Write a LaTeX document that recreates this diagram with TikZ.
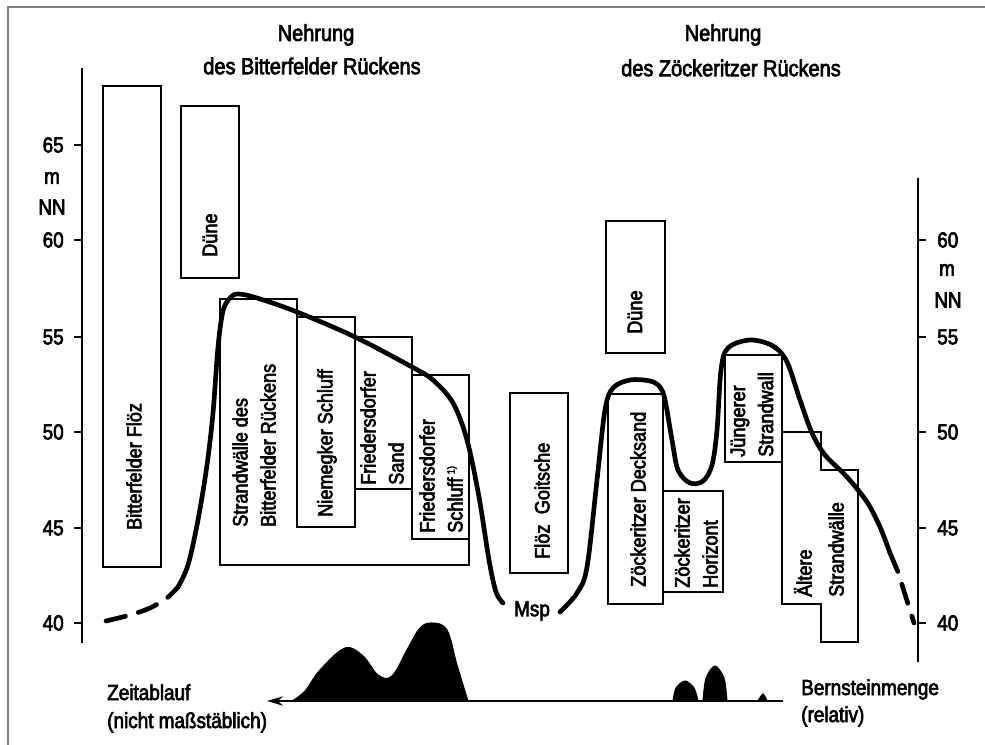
\documentclass[tikz,border=0pt]{standalone}
\usepackage{fontspec}
\setmainfont[FakeStretch=0.87,FakeBold=3]{Liberation Sans}
\usetikzlibrary{arrows.meta}
\begin{document}
\begin{tikzpicture}[x=0.75pt,y=-0.75pt,
  box/.style={draw, line width=1.2pt},
  lbl/.style={rotate=90, anchor=west, inner sep=0pt, align=left, font=\fontsize{15.6}{21}\selectfont},
  txt/.style={inner sep=0pt, font=\fontsize{16.3}{20}\selectfont},
  ttl/.style={inner sep=0pt, font=\fontsize{17.2}{23}\selectfont},
  ax/.style={line width=1.5pt},
  ridge/.style={line width=3.5pt, line cap=round, line join=round},
  ridgedash/.style={ridge, dash pattern=on 15pt off 10pt},
  amber/.style={fill=black, draw=black, line width=0.8pt}
]
\useasboundingbox (0,0) rectangle (985,745);
\fill[white] (0,0) rectangle (985,745);
\draw[gray, line width=1.5pt] (8,745) -- (8,7) -- (985,7);

% titles
\node[ttl] (t1a) at (316,35) {Nehrung};
\node[ttl] (t1b) at (312,66) {des Bitterfelder Rückens};
\node[ttl] (t2a) at (723,35) {Nehrung};
\node[ttl] (t2b) at (731,68) {des Zöckeritzer Rückens};

% left axis
\draw[ax] (82,68) -- (82,643);
\foreach \v/\y in {65/145,60/240,55/337,50/432,45/528,40/623}{
  \draw[ax] (74,\y) -- (82,\y);
  \node[txt, anchor=east] (l\v) at (64,\y) {\v};
}
\node[txt] (lm) at (52,178) {m};
\node[txt] (lnn) at (52,207) {NN};

% right axis
\draw[ax] (918,178) -- (918,662);
\foreach \v/\y in {60/240,55/337,50/432,45/528,40/623}{
  \draw[ax] (918,\y) -- (926,\y);
  \node[txt, anchor=west] (r\v) at (937,\y) {\v};
}
\node[txt] (rm) at (947,270) {m};
\node[txt] (rnn) at (948,300) {NN};

% boxes left
\draw[box] (103,86) rectangle (161,567);
\node[lbl] (bf) at (134,530) {Bitterfelder Flöz};
\draw[box] (181,106) rectangle (239,278);
\node[lbl] (d1) at (210,257) {Düne};
\draw[box] (220,299) -- (297,299) -- (297,317) -- (355,317) -- (355,337) -- (412,337) -- (412,375) -- (469,375) -- (469,565) -- (220,565) -- cycle;
\draw[box] (297,317) rectangle (355,527);
\draw[box] (355,337) rectangle (412,489);
\draw[box] (412,375) rectangle (469,539);
\node[lbl] (sw) at (254,527) {Strandwälle des\\Bitterfelder Rückens};
\node[lbl] (ns) at (327,517) {Niemegker Schluff};
\node[lbl] (fs) at (382,485) {Friedersdorfer\\Sand};
\node[lbl] (fsch) at (441,533) {Friedersdorfer\\Schluff\,\raisebox{0.7ex}{\fontsize{8}{8}\selectfont 1)}};

% boxes right
\draw[box] (510,393) rectangle (568,573);
\node[lbl] (fg) at (542,559) {Flöz\enspace Goitsche};
\draw[box] (606,221) rectangle (665,353);
\node[lbl] (d2) at (635,334) {Düne};
\draw[box] (608,394) rectangle (663,604);
\node[lbl] (zd) at (638,587) {Zöckeritzer Decksand};
\draw[box] (663,491) rectangle (723,592);
\node[lbl] (zh) at (696,588) {Zöckeritzer\\Horizont};
\draw[box] (725,355) rectangle (782,462);
\node[lbl] (js) at (752,457) {Jüngerer\\Strandwall};
\draw[box] (782,432) -- (821,432) -- (821,470) -- (858,470) -- (858,642) -- (821,642) -- (821,604) -- (782,604) -- cycle;
\node[lbl, font=\fontsize{15.6}{24}\selectfont] (as) at (819,597) {Ältere\\Strandwälle};

% ridge curves
\draw[ridgedash] plot[smooth] coordinates {(106,621) (130,615) (150,608) (167,598) (178,587)};
\draw[ridge] plot[smooth, tension=0.55] coordinates {(178,587) (188,565) (198,520) (207,465) (213,413) (218,347) (223,311) (230,298) (238,294) (257,298) (297,312) (355,337) (412,367) (433,380) (453,403) (467,440) (479,497) (489,560) (496,592) (503,603)};
\node[txt] (msp) at (532,611) {Msp};
\draw[ridge] plot[smooth, tension=0.55] coordinates {(560,612) (577,593) (587,567) (597,480) (605,410) (613,388) (630,380) (650,381) (660,387) (665,400) (672,440) (678,470) (690,483) (703,481) (712,465) (717,430) (721,370) (728,348) (750,340) (773,346) (787,362) (800,400) (812,433) (825,455) (847,477) (867,502) (880,527) (890,553)};
\draw[ridgedash] (890,553) -- (898,572) -- (914,623);

% amber amount graph
\fill[amber] plot[smooth, tension=0.6] coordinates {(292,701) (305,691) (320,670) (345,648) (363,656) (378,675) (392,676) (408,648) (420,628) (432,623) (447,630) (457,665) (468,701)} -- cycle;
\fill[amber] plot[smooth] coordinates {(673,701) (676,688) (685,681) (694,688) (698,701)} -- cycle;
\fill[amber] plot[smooth] coordinates {(703,701) (706,678) (715,666) (724,678) (727,701)} -- cycle;
\fill[amber] plot[smooth] coordinates {(758,701) (763,694) (767,701)} -- cycle;
\coordinate (ar0) at (783,701);
\coordinate (ar1) at (267,701);
\draw[line width=1.5pt, -{Stealth[length=12pt,width=7pt]}] (ar0) -- (ar1);

\node[txt, anchor=base west] (z1) at (107,700) {Zeitablauf};
\node[txt, anchor=base west] (z2) at (107,728) {(nicht maßstäblich)};
\node[txt, anchor=base west] (b1) at (801,695) {Bernsteinmenge};
\node[txt, anchor=base west] (b2) at (801,722) {(relativ)};
\end{tikzpicture}
\end{document}
